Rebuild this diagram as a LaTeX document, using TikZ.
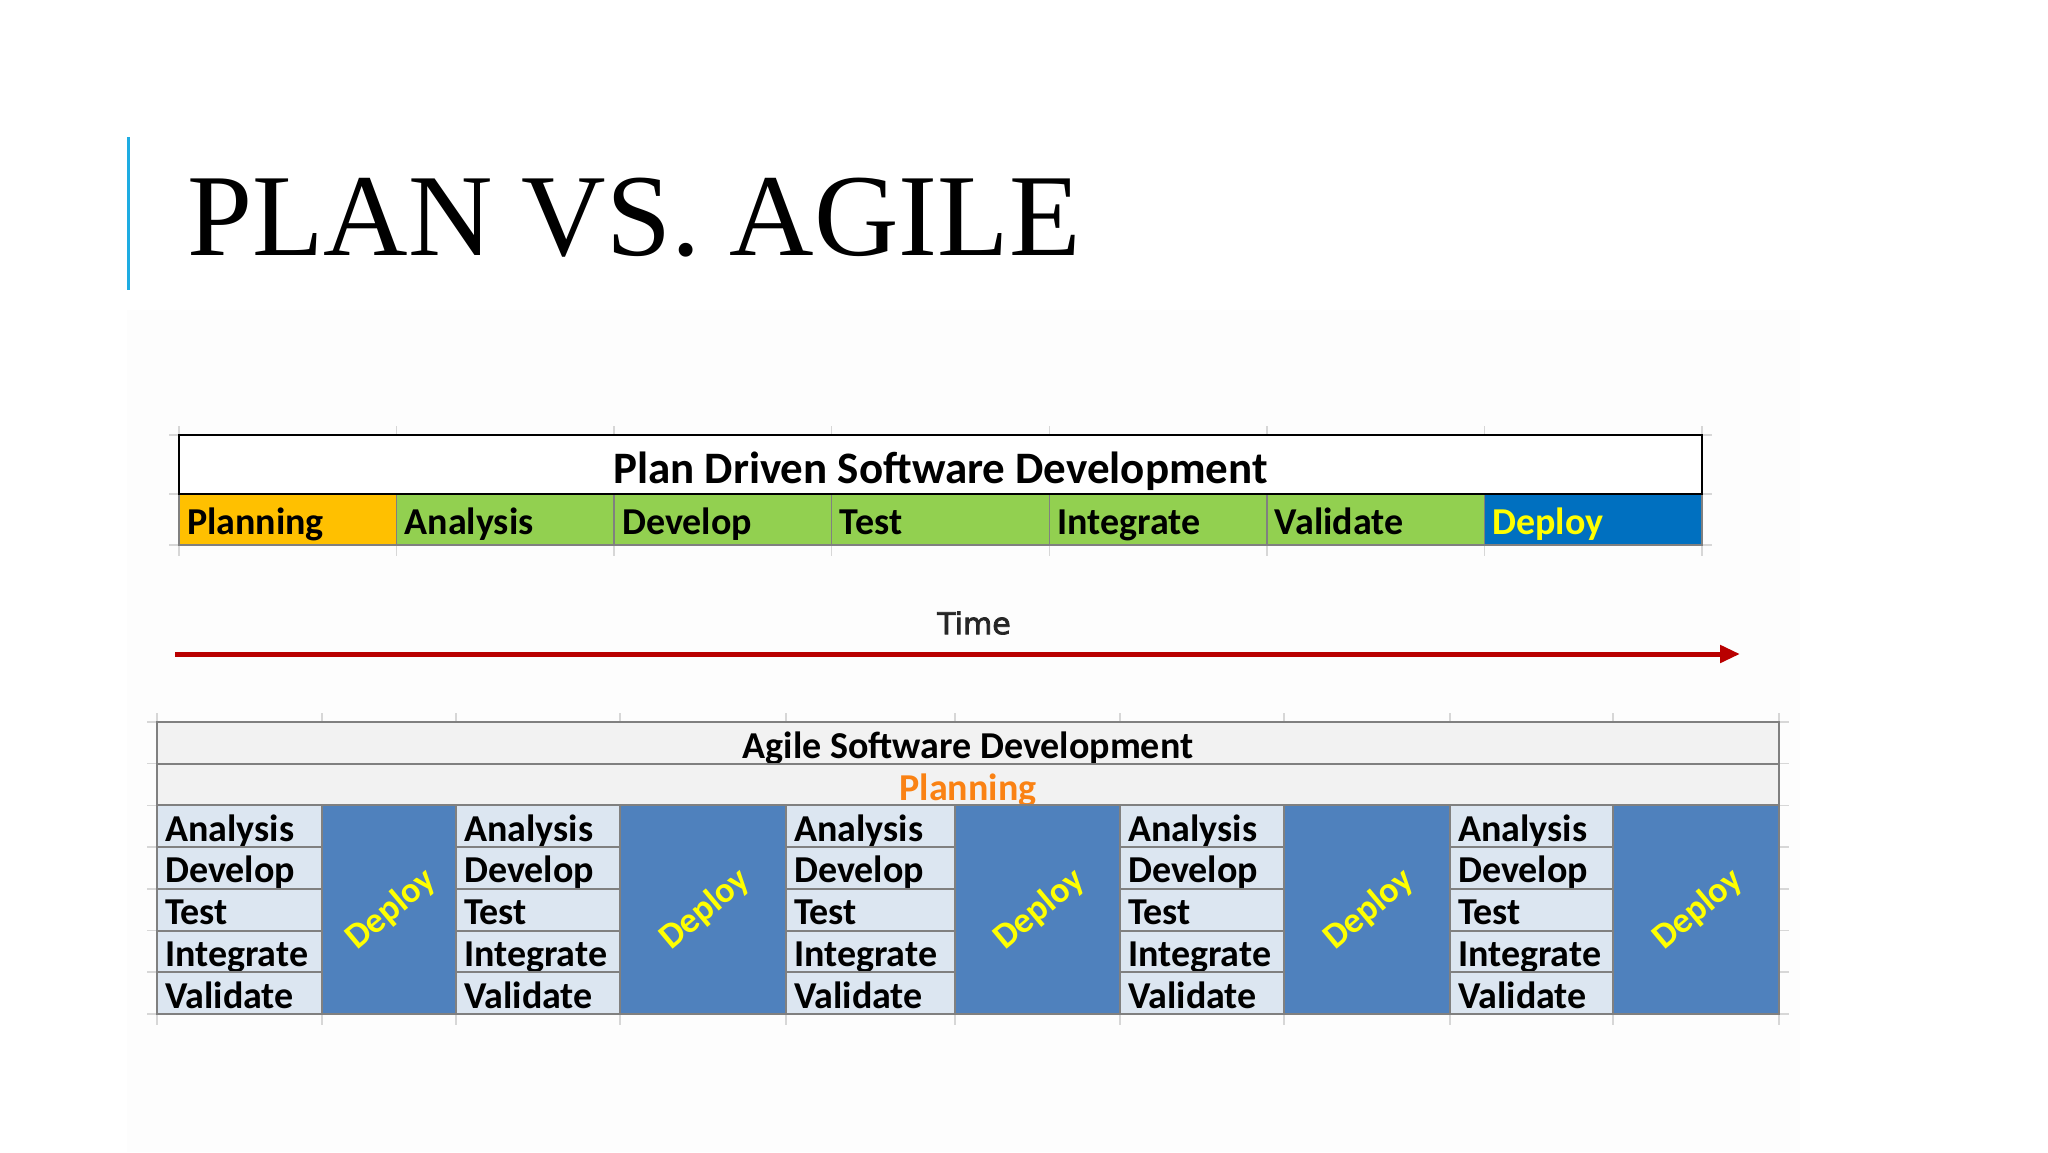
\documentclass[tikz,border=0pt]{standalone}
\usepackage{fontspec}
\setmainfont{Carlito}
\newfontfamily\titlefont{Liberation Serif}
\newfontfamily\timefont[FakeBold=2.5]{DejaVu Sans}
\usetikzlibrary{arrows.meta}
\definecolor{barblue}{RGB}{30,172,226}
\definecolor{planorange}{RGB}{255,192,0}
\definecolor{plangreen}{RGB}{146,208,80}
\definecolor{planblue}{RGB}{0,112,192}
\definecolor{dyellow}{RGB}{255,255,0}
\definecolor{agilegray}{RGB}{242,242,242}
\definecolor{agilelight}{RGB}{220,230,241}
\definecolor{agileblue}{RGB}{79,129,189}
\definecolor{gridgray}{RGB}{128,128,128}
\definecolor{faintgrid}{RGB}{215,215,215}
\definecolor{arrowred}{RGB}{185,0,0}
\definecolor{porange}{RGB}{250,130,20}
\definecolor{panel}{RGB}{253,253,253}
\begin{document}
\begin{tikzpicture}[x=1pt,y=-1pt,
  celltext/.style={font=\bfseries\fontsize{38}{44}\selectfont, text height=38pt, text depth=8pt},
  pcell/.style={celltext, rectangle, anchor=north west, inner xsep=8pt, inner ysep=0pt, outer sep=0pt,
    text width=201.57pt, align=left, minimum height=51pt, draw=gridgray, line width=1.5pt},
  ahead/.style={rectangle, anchor=north west, inner sep=0pt, outer sep=0pt, minimum width=1622pt,
    minimum height=41.7pt, fill=agilegray, draw=gridgray, line width=2pt,
    font=\bfseries\fontsize{38}{44}\selectfont, text height=36pt, text depth=4pt},
  scell/.style={rectangle, anchor=north west, inner sep=0pt, outer sep=0pt,
    minimum height=41.7pt, fill=agilelight, draw=gridgray, line width=2pt},
  slabel/.style={celltext, anchor=west, inner xsep=0pt, inner ysep=0pt},
  dcell/.style={rectangle, anchor=north west, inner sep=0pt, outer sep=0pt, minimum height=208.5pt,
    fill=agileblue, draw=gridgray, line width=2pt},
  dtext/.style={font=\bfseries\fontsize{36}{40}\selectfont, text=dyellow, rotate=40, inner sep=0pt},
  faintline/.style={draw=faintgrid, line width=1.5pt}
]
\useasboundingbox (0,0) rectangle (2048,1152);
\fill[white] (0,0) rectangle (2048,1152);
\fill[panel] (127,310) rectangle (1800,1152);

% title
\draw[barblue, line width=3pt] (128,137) -- (128,290);
\node[anchor=base west, inner sep=0pt, font=\titlefont\fontsize{117}{130}\selectfont] (title) at (187,255) {PLAN VS. AGILE};

% faint spreadsheet gridlines (plan)
\foreach \x in {179,396.57,614.14,831.71,1049.29,1266.86,1484.43,1702} {
  \draw[faintline] (\x,426) -- (\x,435) (\x,545) -- (\x,556);
}
\foreach \y in {435,494,545} {
  \draw[faintline] (169,\y) -- (179,\y) (1702,\y) -- (1712,\y);
}

% plan table
\foreach \i/\lab/\fil/\col in {0/Planning/planorange/black, 1/Analysis/plangreen/black,
  2/Develop/plangreen/black, 3/Test/plangreen/black, 4/Integrate/plangreen/black,
  5/Validate/plangreen/black, 6/Deploy/planblue/dyellow} {
  \node[pcell, fill=\fil, text=\col] (p\i) at ({179+\i*217.571},494) {\lab};
}
\node[rectangle, anchor=north west, inner sep=0pt, outer sep=0pt, minimum width=1523pt, minimum height=59pt,
  draw=black, line width=2.5pt, fill=white, font=\bfseries\fontsize{45}{52}\selectfont,
  text height=46pt, text depth=9pt] (ph) at (179,435) {Plan Driven Software Development};

% time arrow
\node[font=\timefont\fontsize{30}{36}\selectfont, text=black!85, inner sep=0pt] (time) at (974,623) {Time};
\coordinate (tstart) at (175,654);
\coordinate (tend) at (1740,654);
\draw[arrowred, line width=5pt, -{Triangle[length=20pt, width=17pt]}] (tstart) -- (tend);

% faint spreadsheet gridlines (agile)
\foreach \x in {157,322,456,620,786,955,1120,1284,1450,1613,1779} {
  \draw[faintline] (\x,713) -- (\x,722) (\x,1014) -- (\x,1025);
}
\foreach \y in {722,763.7,805.4,847.1,888.8,930.5,972.2,1013.9} {
  \draw[faintline] (147,\y) -- (157,\y) (1779,\y) -- (1789,\y);
}

% agile table
\node[ahead] (ah) at (157,722) {Agile Software Development};
\node[ahead, text=porange] (ap) at (157,763.7) {Planning};
\foreach \g/\sx/\sr/\dr in {1/157/322/456, 2/456/620/786, 3/786/955/1120, 4/1120/1284/1450, 5/1450/1613/1779} {
  \pgfmathsetmacro\sw{\sr-\sx}
  \pgfmathsetmacro\dw{\dr-\sr}
  \foreach \r/\lab in {0/Analysis,1/Develop,2/Test,3/Integrate,4/Validate} {
    \node[scell, minimum width=\sw pt] (s\g\r) at (\sx,{805.4+\r*41.7}) {};
    \node[slabel] (l\g\r) at ([xshift=8pt]s\g\r.west) {\lab};
  }
  \node[dcell, minimum width=\dw pt] (d\g) at (\sr,805.4) {};
  \node[dtext] (dt\g) at ([xshift=2pt]d\g.center) {Deploy};
}
\end{tikzpicture}
\end{document}
